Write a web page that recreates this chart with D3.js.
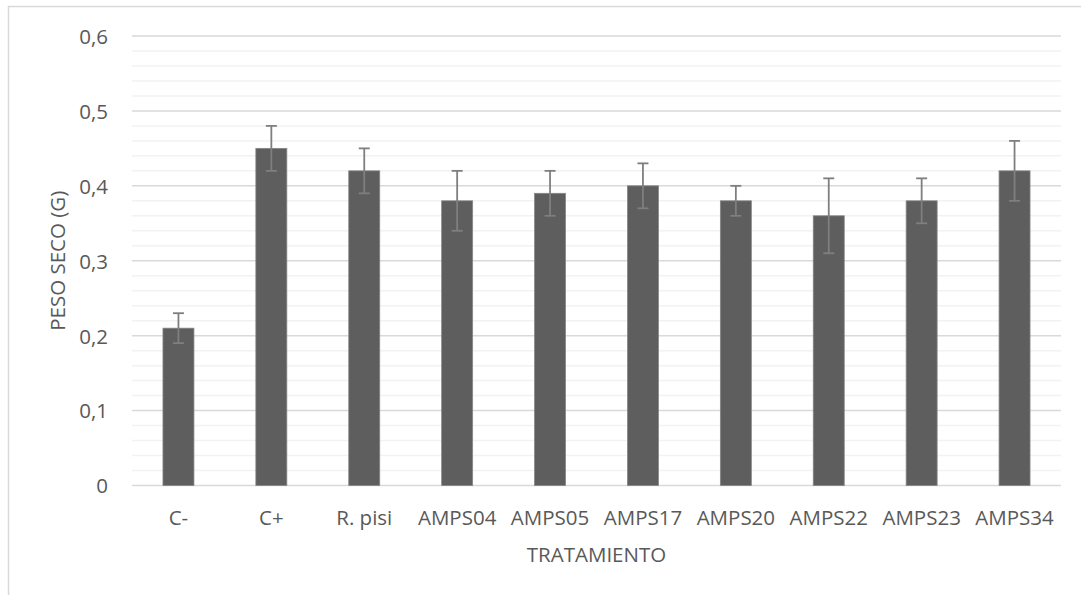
<!DOCTYPE html>
<html>
<head>
<meta charset="utf-8">
<script src="https://cdn.jsdelivr.net/npm/d3@7"></script>
<style>
  html, body { margin: 0; padding: 0; background: #fff; }
  svg { display: block; }
  text { font-family: "Open Sans", sans-serif; fill: #595959; }
</style>
</head>
<body>
<svg id="chart" width="1081" height="595"></svg>
<script>
const categories = ["C-", "C+", "R. pisi", "AMPS04", "AMPS05", "AMPS17", "AMPS20", "AMPS22", "AMPS23", "AMPS34"];
const values = [0.21, 0.45, 0.42, 0.38, 0.39, 0.40, 0.38, 0.36, 0.38, 0.42];
const errors = [0.02, 0.03, 0.03, 0.04, 0.03, 0.03, 0.02, 0.05, 0.03, 0.04];
const yTicks = [0, 0.1, 0.2, 0.3, 0.4, 0.5, 0.6];
const yTickLabels = ["0", "0,1", "0,2", "0,3", "0,4", "0,5", "0,6"];
const yTitle = "PESO SECO (G)";
const xTitle = "TRATAMIENTO";

const svg = d3.select("#chart");
const plot = { left: 132, right: 1061, top: 36, bottom: 485.5 };

// outer chart-area border
svg.append("rect")
  .attr("x", 8.5).attr("y", 6.5)
  .attr("width", 1200).attr("height", 700)
  .attr("fill", "none").attr("stroke", "#d9d9d9").attr("stroke-width", 1.5);

const x = d3.scaleBand().domain(categories).range([plot.left, plot.right]).paddingInner(0).paddingOuter(0);
const y = d3.scaleLinear().domain([0, 0.6]).range([plot.bottom, plot.top]);

// minor gridlines
const minor = d3.range(0, 0.6001, 0.02).filter(v => Math.abs(v * 10 - Math.round(v * 10)) > 1e-6);
svg.append("g").selectAll("line").data(minor).join("line")
  .attr("x1", plot.left).attr("x2", plot.right)
  .attr("y1", d => y(d)).attr("y2", d => y(d))
  .attr("stroke", "#f2f2f2").attr("stroke-width", 1.5);

// major gridlines
svg.append("g").selectAll("line").data(yTicks).join("line")
  .attr("x1", plot.left).attr("x2", plot.right)
  .attr("y1", d => y(d)).attr("y2", d => y(d))
  .attr("stroke", "#d9d9d9").attr("stroke-width", 1.5);

// y axis labels
const yAxis = d3.axisLeft(y).tickValues(yTicks).tickFormat((d, i) => yTickLabels[i]).tickSize(0).tickPadding(0);
const yg = svg.append("g").attr("transform", `translate(${108},0)`).call(yAxis);
yg.select(".domain").remove();
yg.selectAll("text").attr("font-size", "20.5px").attr("font-family", "Open Sans").attr("fill", "#595959").attr("dy", "0.36em");

// bars
const bw = x.bandwidth() / 3;
svg.append("g").selectAll("rect").data(categories).join("rect")
  .attr("x", d => x(d) + x.bandwidth() / 2 - bw / 2)
  .attr("y", (d, i) => y(values[i]))
  .attr("width", bw)
  .attr("height", (d, i) => y(0) - y(values[i]))
  .attr("fill", "#5e5e5e")
  .attr("stroke", "#858585").attr("stroke-width", 0.8);

// error bars
const eg = svg.append("g").attr("stroke", "#7f7f7f").attr("stroke-width", 1.8).attr("fill", "none");
categories.forEach((c, i) => {
  const cx = x(c) + x.bandwidth() / 2;
  const yt = y(values[i] + errors[i]), yb = y(values[i] - errors[i]);
  eg.append("line").attr("x1", cx).attr("x2", cx).attr("y1", yt).attr("y2", yb);
  eg.append("line").attr("x1", cx - 5.5).attr("x2", cx + 5.5).attr("y1", yt).attr("y2", yt);
  eg.append("line").attr("x1", cx - 5.5).attr("x2", cx + 5.5).attr("y1", yb).attr("y2", yb);
});

// x axis labels
const xAxis = d3.axisBottom(x).tickSize(0).tickPadding(0);
const xg = svg.append("g").attr("transform", `translate(0,${plot.bottom})`).call(xAxis);
xg.select(".domain").remove();
xg.selectAll("text").attr("font-size", "20.5px").attr("font-family", "Open Sans").attr("fill", "#595959")
  .attr("y", 39.5).attr("dy", 0);

// axis titles
svg.append("text")
  .attr("x", (plot.left + plot.right) / 2).attr("y", 562)
  .attr("text-anchor", "middle").attr("font-size", "20.5px")
  .text(xTitle);

svg.append("text")
  .attr("transform", `translate(65,${(plot.top + plot.bottom) / 2}) rotate(-90)`)
  .attr("text-anchor", "middle").attr("font-size", "20.5px")
  .text(yTitle);
</script>
</body>
</html>
